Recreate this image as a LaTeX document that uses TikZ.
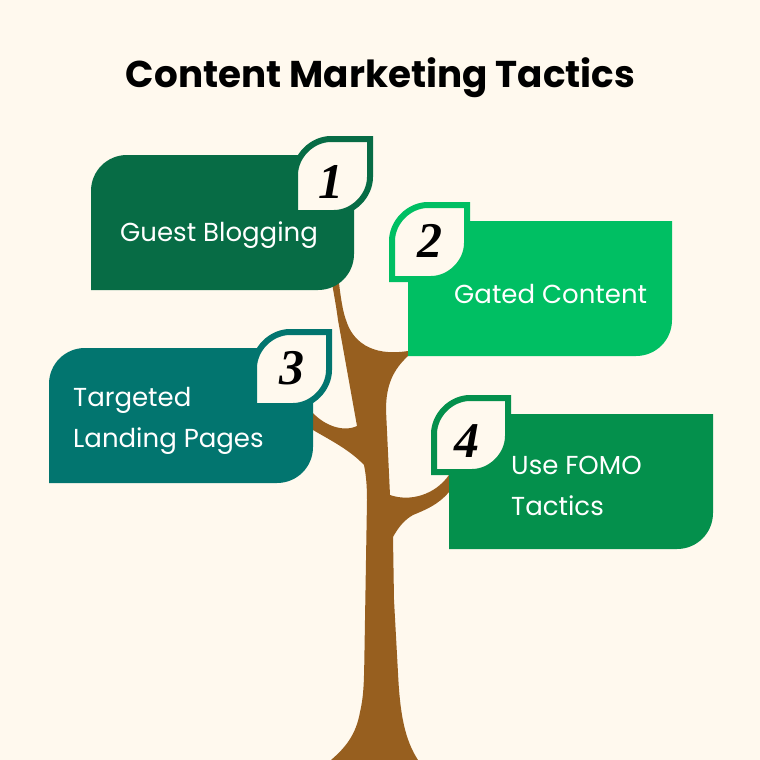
\documentclass[tikz,border=0pt]{standalone}
\usepackage{fontspec}
\setmainfont{Poppins}[BoldFont={Poppins Bold}]
\newfontfamily\digitfont{Liberation Serif}
\definecolor{bgc}{HTML}{FFF9EE}
\definecolor{trunk}{HTML}{975F1F}
\definecolor{boxa}{HTML}{076C45}
\definecolor{boxb}{HTML}{00BF63}
\definecolor{boxc}{HTML}{02756F}
\definecolor{boxd}{HTML}{04904C}
\tikzset{
 lbl/.style={text=white,anchor=west,align=left,font=\fontsize{26}{41}\selectfont,inner sep=0pt},
 dgt/.style={text=black,font=\fontsize{50}{50}\selectfont\digitfont\itshape\bfseries,inner sep=0pt},
 leafline/.style={line width=6pt,fill=bgc,miter limit=10}
}
% rounded top-left and bottom-right card: x0 y0 x1 y1 colour
\newcommand{\cardround}[5]{%
 \fill[#5] (#1,#4) -- (#1,#2+36) .. controls (#1,#2+16) and (#1+16,#2) .. (#1+36,#2) -- (#3,#2) -- (#3,#4-36)
   .. controls (#3,#4-16) and (#3-16,#4) .. (#3-36,#4) -- cycle;}
% square top-left, rounded bottom-right card
\newcommand{\cardsquare}[5]{%
 \fill[#5] (#1,#4) -- (#1,#2) -- (#3,#2) -- (#3,#4-36)
   .. controls (#3,#4-16) and (#3-16,#4) .. (#3-36,#4) -- cycle;}
\newcommand{\leafshape}[5]{%
 \draw[leafline,draw=#5] (#1-3,#4+3) -- (#1-3,#2+33) .. controls (#1-3,#2+14) and (#1+14,#2-3) .. (#1+33,#2-3) -- (#3+3,#2-3) -- (#3+3,#4-33)
   .. controls (#3+3,#4-14) and (#3-14,#4+3) .. (#3-33,#4+3) -- cycle;}
\begin{document}
\begin{tikzpicture}[x=1pt,y=-1pt]
\useasboundingbox (0,0) rectangle (760,760);
\fill[bgc] (0,0) rectangle (760,760);
\node (title) at (380.5,78) {\fontsize{37.3}{40}\selectfont\bfseries Content Marketing Tactics};
% tree
\fill[trunk] (331,760) .. controls (345,748) and (356,735) .. (360,712)
 .. controls (364,695) and (364,680) .. (364.5,650) -- (366,560) -- (367,500)
 .. controls (367,485) and (366,475) .. (364,465)
 .. controls (350,450) and (330,440) .. (313,430) -- (313,413)
 .. controls (323,424) and (342,433) .. (357,426)
 -- (338,320) .. controls (336,305) and (334,295) .. (332,283) -- (339,283)
 .. controls (341,300) and (343,312) .. (346,320)
 .. controls (352,340) and (370,357) .. (408,351) -- (408,356)
 .. controls (393,370) and (386,385) .. (386,410) -- (390,495)
 .. controls (410,502) and (435,495) .. (449,475) -- (449,492)
 .. controls (438,505) and (425,510) .. (413,515)
 .. controls (404,520) and (398,528) .. (393,537)
 -- (394,600) -- (398,673) .. controls (400,715) and (405,740) .. (418,760) -- cycle;
% cards
\cardround{91}{155}{354}{290}{boxa}
\cardsquare{408}{221}{672}{356}{boxb}
\cardround{49}{348}{313}{483}{boxc}
\cardsquare{449}{414}{713}{549}{boxd}
% leaves
\leafshape{298}{142}{367}{210}{boxa}
\leafshape{395}{208}{464}{276}{boxb}
\leafshape{257}{335}{326}{403}{boxc}
\leafshape{437}{401}{505}{469}{boxd}
\node[dgt] (d1) at (331,182) {1};
\node[dgt] (d2) at (430,241) {2};
\node[dgt] (d3) at (292,368) {3};
\node[dgt] (d4) at (467,441) {4};
\node[lbl] (t1) at (120,235) {Guest Blogging};
\node[lbl] (t2) at (454,294) {Gated Content};
\node[lbl,anchor=north west] (t3) at (73,387) {Targeted\\Landing Pages};
\node[lbl,anchor=north west] (t4) at (511,456) {Use FOMO\\Tactics};
\end{tikzpicture}
\end{document}
